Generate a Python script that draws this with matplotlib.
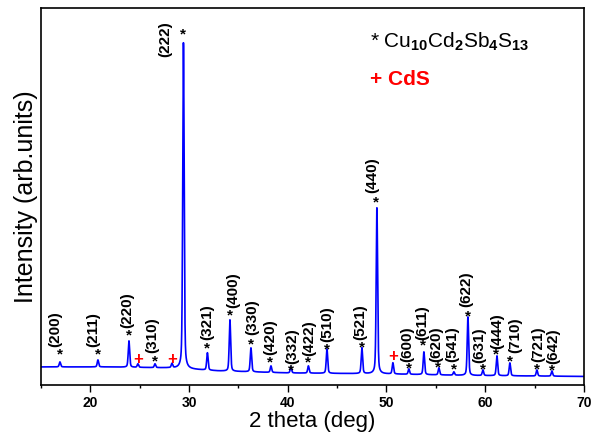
import numpy as np
import matplotlib
matplotlib.use("Agg")
import matplotlib.pyplot as plt
from matplotlib.ticker import MultipleLocator

plt.rcParams['font.family'] = ['Liberation Sans', 'DejaVu Sans']
plt.rcParams['mathtext.fontset'] = 'custom'
plt.rcParams['mathtext.rm'] = 'Liberation Sans:bold'
plt.rcParams['mathtext.default'] = 'rm'

# --- reflections of Cu10Cd2Sb4S13 (2theta, peak-top intensity) ---
hkl = ["(200)", "(211)", "(220)", "(310)", "(222)", "(321)", "(400)", "(330)",
       "(420)", "(332)", "(422)", "(510)", "(521)", "(440)", "(600)", "(611)",
       "(620)", "(541)", "(622)", "(631)", "(444)", "(710)", "(721)", "(642)"]
pos_main = [16.92, 20.77, 23.91, 26.55, 29.43, 31.86, 34.14, 36.27,
            38.30, 40.32, 42.09, 43.97, 47.51, 49.03, 52.27, 53.79,
            55.31, 56.83, 58.25, 59.77, 61.19, 62.50, 65.24, 66.76]
top_main = [230, 250, 440, 210, 3420, 320, 650, 370,
            190, 180, 190, 360, 370, 1770, 160, 330,
            170, 130, 680, 150, 290, 220, 150, 140]

# --- CdS reflections ---
pos_cds = [24.82, 28.27, 50.65]
top_cds = [210, 210, 220]

# background level along the scan
bg_x = [15, 22, 28, 33, 40, 50, 58, 70]
bg_y = [180, 180, 170, 140, 120, 110, 95, 85]

# annotation placement: star (x, y) and rotated label (x, bottom y)
star_x = [16.92, 20.77, 23.91, 26.55, 29.38, 31.81, 34.14, 36.27,
          38.20, 40.32, 42.04, 43.97, 47.51, 48.93, 52.27, 53.69,
          55.21, 56.83, 58.25, 59.77, 61.09, 62.50, 65.24, 66.76]
star_y = [330, 330, 520, 260, 3530, 390, 720, 430,
          250, 170, 250, 380, 400, 1850, 190, 420,
          200, 180, 710, 180, 330, 260, 180, 170]
lab_x = [16.42, 20.27, 23.71, 26.24, 27.56, 31.81, 34.45, 36.37,
         38.20, 40.42, 42.14, 43.97, 47.31, 48.52, 52.07, 53.59,
         55.01, 56.63, 58.05, 59.36, 61.19, 63.00, 65.34, 66.86]
lab_y = [380, 380, 570, 320, 3280, 450, 770, 500,
         300, 210, 290, 430, 450, 1920, 230, 450,
         230, 230, 780, 220, 360, 320, 230, 210]
cds_mark_y = [250, 250, 280]

# build the diffraction trace from pseudo-Voigt profiles
tt = np.linspace(15, 70, 5501)
bg = np.interp(tt, bg_x, bg_y)
intensity = bg.copy()
fwhm = 0.17
for p, t in zip(pos_main + pos_cds, top_main + top_cds):
    amp = t - np.interp(p, bg_x, bg_y)
    g = np.exp(-4 * np.log(2) * ((tt - p) / fwhm) ** 2)
    lor = 1 / (1 + 4 * ((tt - p) / fwhm) ** 2)
    intensity += amp * (0.6 * g + 0.4 * lor)

fig = plt.figure(figsize=(5.94, 4.33), dpi=100)
ax = fig.add_axes([0.069, 0.111, 0.914, 0.871])
ax.plot(tt, intensity, color="#0000FF", lw=1.2)

ax.set_xlim(15, 70)
ax.set_ylim(0, 3770)
ax.xaxis.set_major_locator(MultipleLocator(10))
ax.xaxis.set_minor_locator(MultipleLocator(5))
ax.tick_params(axis='x', which='major', direction='out', length=5, width=1,
               labelsize=10, pad=3)
ax.tick_params(axis='x', which='minor', direction='out', length=2.5, width=1)
ax.tick_params(axis='y', left=False, labelleft=False)
for lab in ax.get_xticklabels():
    lab.set_fontweight('bold')
for s in ax.spines.values():
    s.set_linewidth(1.2)

ax.set_xlabel("2 theta (deg)", fontsize=16, labelpad=1)
ax.set_ylabel("Intensity (arb.units)", fontsize=18, labelpad=2)

for name, sx, sy, lx, ly in zip(hkl, star_x, star_y, lab_x, lab_y):
    ax.text(sx, sy - 30, "*", ha='center', va='center', fontsize=11,
            fontweight='bold')
    ax.text(lx, ly, name, rotation=90, ha='center', va='bottom',
            fontsize=11, fontweight='bold')

for p, y in zip(pos_cds, cds_mark_y):
    ax.text(p, y, "+", ha='center', va='center', fontsize=12,
            fontweight='bold', color='red')

ax.text(0.606, 0.894, r"* Cu$_{10}$Cd$_2$Sb$_4$S$_{13}$",
        transform=ax.transAxes, fontsize=15, ha='left', va='baseline')
ax.text(0.606, 0.796, "+ CdS", transform=ax.transAxes, fontsize=15,
        fontweight='bold', color='red', ha='left', va='baseline')

fig.savefig("out.png", dpi=100)
